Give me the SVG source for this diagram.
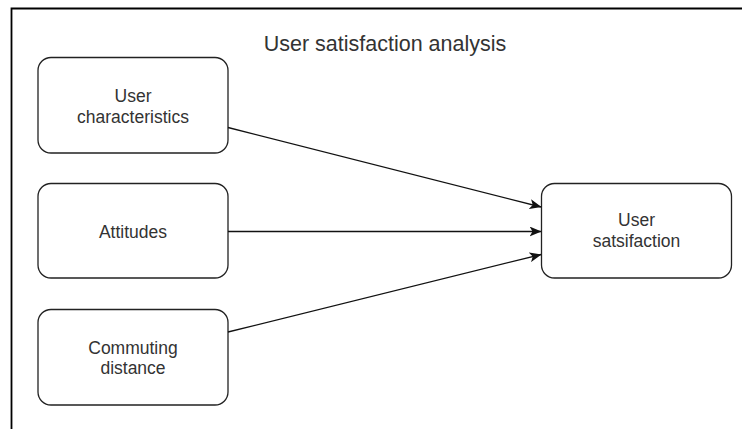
<svg xmlns="http://www.w3.org/2000/svg" width="742" height="429" viewBox="0 0 742 429">
  <defs>
    <style>
      .node rect { fill: #ffffff; stroke: #222222; stroke-width: 1.3; }
      .lbl { font-family: "Liberation Sans", Arial, sans-serif; font-size: 17.5px; fill: #333333; text-anchor: middle; }
      .title { font-family: "Liberation Sans", Arial, sans-serif; font-size: 21.5px; fill: #333333; text-anchor: middle; }
      .edge { fill: none; stroke: #111111; stroke-width: 1.3; }
      .frame { fill: none; stroke: #000000; stroke-width: 1.8; }
    </style>
    <marker id="arrow" viewBox="0 0 12 10" refX="11.5" refY="5" markerWidth="12" markerHeight="10" markerUnits="userSpaceOnUse" orient="auto">
      <path d="M0,0 L12,5 L0,10 L3,5 Z" fill="#111111"/>
    </marker>
  </defs>
  <rect width="742" height="429" fill="#ffffff"/>
  <path class="frame" d="M11.5,429 L11.5,8.5 L742,8.5"/>
  <text class="title" x="385" y="50.5">User satisfaction analysis</text>

  <g id="user-characteristics" class="node">
    <rect x="38" y="57.5" width="190" height="95.5" rx="13" ry="13"/>
    <text class="lbl" x="133" y="101.5">User</text>
    <text class="lbl" x="133" y="122.5">characteristics</text>
  </g>
  <g id="attitudes" class="node">
    <rect x="38" y="183.5" width="190" height="94.5" rx="13" ry="13"/>
    <text class="lbl" x="133" y="237.5">Attitudes</text>
  </g>
  <g id="commuting-distance" class="node">
    <rect x="38" y="309.5" width="190" height="95.5" rx="13" ry="13"/>
    <text class="lbl" x="133" y="353.5">Commuting</text>
    <text class="lbl" x="133" y="374">distance</text>
  </g>
  <g id="user-satisfaction" class="node">
    <rect x="541.5" y="183.5" width="190" height="94.5" rx="13" ry="13"/>
    <text class="lbl" x="636.5" y="226">User</text>
    <text class="lbl" x="636.5" y="247">satsifaction</text>
  </g>

  <g id="connectors">
    <path class="edge" d="M228,127.5 L541,207" marker-end="url(#arrow)"/>
    <path class="edge" d="M228,231.5 L541,231.5" marker-end="url(#arrow)"/>
    <path class="edge" d="M228,332 L541,254.5" marker-end="url(#arrow)"/>
  </g>
</svg>
